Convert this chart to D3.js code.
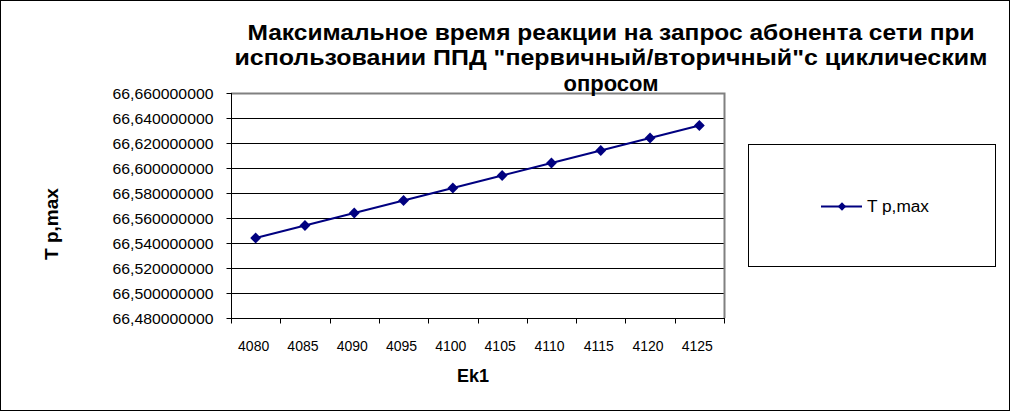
<!DOCTYPE html>
<html><head><meta charset="utf-8">
<script src="https://cdn.jsdelivr.net/npm/d3@7"></script>
<style>body{margin:0;background:#fff}svg{display:block}</style>
</head><body>
<svg id="c" width="1011" height="412"></svg>
<script>
const categories = ["4080","4085","4090","4095","4100","4105","4110","4115","4120","4125"];
const values = [66.544,66.554,66.564,66.574,66.584,66.594,66.604,66.614,66.624,66.634];
const yTicks = [66.48,66.50,66.52,66.54,66.56,66.58,66.60,66.62,66.64,66.66];
const titleLines = ["Максимальное время реакции на запрос абонента сети при","использовании ППД \"первичный/вторичный\"с циклическим","опросом"];
const seriesName = "T p,max";
const xTitle = "Ek1", yTitle = "T p,max";

const svg = d3.select("#c");
const font = "'Liberation Sans', Arial, sans-serif";
svg.append("rect").attr("x",0.5).attr("y",0.5).attr("width",1009).attr("height",410).attr("fill","#fff").attr("stroke","#000");

const L=231,R=724,T=93,B=318;
const x = d3.scaleBand().domain(categories).range([L,R]);
const y = d3.scaleLinear().domain([66.48,66.66]).range([B,T]);

// gridlines
svg.append("g").selectAll("line").data(yTicks.slice(1,-1)).join("line")
  .attr("x1",L).attr("x2",R).attr("y1",d=>Math.round(y(d))+0.5).attr("y2",d=>Math.round(y(d))+0.5).attr("stroke","#000");
// plot border top/right gray
svg.append("path").attr("d",`M${L},${T+0.5}H${R+0.5}V${B}`).attr("fill","none").attr("stroke","#808080").attr("stroke-width",2);

// y axis
const yAxis = svg.append("g").attr("transform",`translate(${L+0.5},0)`)
  .call(d3.axisLeft(y).tickValues(yTicks).tickSize(5).tickPadding(13).tickFormat(d=>d3.format(".9f")(d).replace(".",",")));
yAxis.select(".domain").attr("stroke","#000").attr("d",`M0,${T}V${B}`);
yAxis.selectAll("text").attr("font-family",font).attr("font-size",14.5).attr("fill","#000")
  .attr("textLength",101).attr("lengthAdjust","spacingAndGlyphs").attr("dy","0.36em");

// x axis with ticks at boundaries
const xg = svg.append("g").attr("transform",`translate(0,${B+0.5})`);
xg.append("line").attr("x1",L).attr("x2",R+1).attr("stroke","#000");
const bounds = categories.map(c=>x(c)).concat([x(categories[categories.length-1])+x.bandwidth()]);
xg.selectAll("line.t").data(bounds).join("line").attr("class","t")
  .attr("x1",d=>Math.round(d)+0.5).attr("x2",d=>Math.round(d)+0.5).attr("y1",0).attr("y2",5).attr("stroke","#000");
xg.selectAll("text").data(categories).join("text")
  .attr("x",d=>x(d)+x.bandwidth()/2-2).attr("y",32).attr("text-anchor","middle")
  .attr("font-family",font).attr("font-size",14).text(d=>d);

// line
const line = d3.line().x((d,i)=>x(categories[i])+x.bandwidth()/2).y(d=>y(d));
svg.append("path").datum(values).attr("d",line).attr("fill","none").attr("stroke","#000080").attr("stroke-width",2);
const diamond = d3.symbol().type(d3.symbolDiamond2).size(75);
svg.append("g").selectAll("path").data(values).join("path")
  .attr("transform",(d,i)=>`translate(${x(categories[i])+x.bandwidth()/2},${y(d)})`)
  .attr("d",diamond).attr("fill","#000080");

// titles
const titleW = [727,753,null];
const t = svg.append("g");
titleLines.forEach((s,i)=>{
  const e = t.append("text").attr("x",611).attr("y",39.5+i*25.8).attr("text-anchor","middle")
    .attr("font-family",font).attr("font-weight","bold").attr("font-size",22).text(s);
  if (titleW[i]) e.attr("textLength",titleW[i]).attr("lengthAdjust","spacingAndGlyphs");
});
svg.append("text").attr("x",473).attr("y",382).attr("text-anchor","middle").attr("font-family",font).attr("font-weight","bold").attr("font-size",18).text(xTitle);
svg.append("text").attr("transform","translate(58,224) rotate(-90)").attr("text-anchor","middle").attr("font-family",font).attr("font-weight","bold").attr("font-size",19).text(yTitle);

// legend
svg.append("rect").attr("x",748.5).attr("y",144.5).attr("width",247).attr("height",122).attr("fill","#fff").attr("stroke","#000");
svg.append("line").attr("x1",821).attr("x2",862).attr("y1",206.5).attr("y2",206.5).attr("stroke","#000080").attr("stroke-width",2);
svg.append("path").attr("transform","translate(842,206.5)").attr("d",d3.symbol().type(d3.symbolDiamond2).size(45)).attr("fill","#000080");
svg.append("text").attr("x",867).attr("y",212).attr("font-family",font).attr("font-size",16).attr("textLength",62).attr("lengthAdjust","spacingAndGlyphs").text(seriesName);
</script>
</body></html>
